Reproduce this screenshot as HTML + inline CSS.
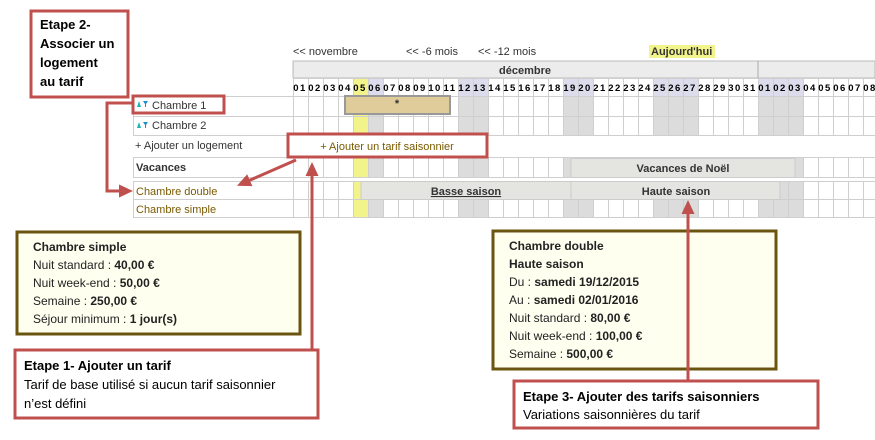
<!DOCTYPE html>
<html><head><meta charset="utf-8"><style>
body{margin:0;background:#fff;width:875px;height:440px;overflow:hidden}
svg{display:block;font-family:"Liberation Sans",sans-serif}
.d{font-size:9.5px;font-weight:bold;fill:#000;letter-spacing:1.5px;text-anchor:middle}
.l{font-size:11px;fill:#333}
.b{font-size:11px;font-weight:bold;fill:#333}
.br{font-size:11px;fill:#7a5a00}
.t{font-size:12px;fill:#222}
.c{font-size:13px;fill:#000}
</style></head><body>
<svg width="875" height="440" viewBox="0 0 875 440">
<defs>
<pattern id="g" x="293" y="0" width="15" height="440" patternUnits="userSpaceOnUse"><line x1="0.5" y1="0" x2="0.5" y2="440" stroke="#cfcfcf" stroke-width="1"/></pattern>
<marker id="ar" markerWidth="14" markerHeight="14" refX="2" refY="7" orient="auto" markerUnits="userSpaceOnUse"><path d="M0,0.5 L14,7 L0,13.5 z" fill="#c0504d"/></marker>
</defs>
<text x="293" y="55" class="l">&lt;&lt; novembre</text>
<text x="406" y="55" class="l">&lt;&lt; -6 mois</text>
<text x="478" y="55" class="l">&lt;&lt; -12 mois</text>
<rect x="649" y="45" width="66" height="13" fill="#f3f38c"/>
<text x="651" y="55" class="b">Aujourd'hui</text>
<rect x="293" y="61" width="582" height="17" fill="#ececec" stroke="#bbb"/>
<line x1="758" y1="61" x2="758" y2="78" stroke="#aaa"/>
<text x="525" y="74" class="b" text-anchor="middle" fill="#000">décembre</text>
<g fill="#dcdcec">
<rect x="368" y="78" width="15" height="18"/><rect x="458" y="78" width="30" height="18"/><rect x="563" y="78" width="30" height="18"/><rect x="653" y="78" width="45" height="18"/><rect x="758" y="78" width="45" height="18"/>
</g>
<rect x="353" y="78" width="15" height="18" fill="#f3f38c"/>
<g fill="#dcdcdc">
<rect x="368" y="96" width="15" height="122"/><rect x="458" y="96" width="30" height="122"/><rect x="563" y="96" width="30" height="122"/><rect x="653" y="96" width="45" height="122"/><rect x="758" y="96" width="45" height="122"/>
</g>
<rect x="353" y="96" width="15" height="122" fill="#f3f38c"/>
<rect x="293" y="135" width="582" height="23" fill="#fff"/>
<rect x="293" y="178" width="582" height="3" fill="#fff"/>
<rect x="293" y="78" width="582" height="57" fill="url(#g)"/>
<rect x="293" y="158" width="582" height="20" fill="url(#g)"/>
<rect x="293" y="181" width="582" height="37" fill="url(#g)"/>
<g stroke="#cfcfcf">
<line x1="293" y1="78.5" x2="875" y2="78.5"/><line x1="133" y1="96.5" x2="875" y2="96.5"/><line x1="133" y1="116.5" x2="875" y2="116.5"/><line x1="133" y1="135.5" x2="875" y2="135.5"/>
<line x1="133" y1="157.5" x2="875" y2="157.5"/><line x1="133" y1="177.5" x2="875" y2="177.5"/>
<line x1="133" y1="181.5" x2="875" y2="181.5"/><line x1="133" y1="199.5" x2="875" y2="199.5"/><line x1="133" y1="217.5" x2="875" y2="217.5"/>
<line x1="133.5" y1="96" x2="133.5" y2="135"/><line x1="133.5" y1="157" x2="133.5" y2="178"/><line x1="133.5" y1="181" x2="133.5" y2="218"/>
<line x1="293.5" y1="61" x2="293.5" y2="218"/>
</g>
<g class="d">
<text x="300" y="91">01</text><text x="315" y="91">02</text><text x="330" y="91">03</text><text x="345" y="91">04</text><text x="360" y="91">05</text><text x="375" y="91">06</text><text x="390" y="91">07</text><text x="405" y="91">08</text><text x="420" y="91">09</text><text x="435" y="91">10</text><text x="450" y="91">11</text><text x="465" y="91">12</text><text x="480" y="91">13</text><text x="495" y="91">14</text><text x="510" y="91">15</text><text x="525" y="91">16</text><text x="540" y="91">17</text><text x="555" y="91">18</text><text x="570" y="91">19</text><text x="585" y="91">20</text><text x="600" y="91">21</text><text x="615" y="91">22</text><text x="630" y="91">23</text><text x="645" y="91">24</text><text x="660" y="91">25</text><text x="675" y="91">26</text><text x="690" y="91">27</text><text x="705" y="91">28</text><text x="720" y="91">29</text><text x="735" y="91">30</text><text x="750" y="91">31</text><text x="765" y="91">01</text><text x="780" y="91">02</text><text x="795" y="91">03</text><text x="810" y="91">04</text><text x="825" y="91">05</text><text x="840" y="91">06</text><text x="855" y="91">07</text><text x="870" y="91">08</text>
</g>
<rect x="345" y="96" width="105" height="18" fill="#e0cb9a" stroke="#999" stroke-width="2"/>
<text x="397" y="107" class="b" text-anchor="middle">*</text>
<rect x="571" y="158.5" width="224" height="19" fill="#e4e4e0" stroke="#ccc"/>
<text x="683" y="172" class="b" text-anchor="middle">Vacances de Noël</text>
<rect x="361" y="181.5" width="210" height="18" fill="#e4e4e0" stroke="#ccc"/>
<text x="466" y="195" class="b" text-anchor="middle" text-decoration="underline">Basse saison</text>
<rect x="571" y="181.5" width="209" height="18" fill="#e4e4e0" stroke="#ccc"/>
<text x="676" y="195" class="b" text-anchor="middle">Haute saison</text>
<g fill="#1ab5b5"><path d="M137,107 l2,-6 l2,6z"/><path d="M143,101 h5 l-2,3 v3 h-1 v-3z" fill="#1a8fd0"/>
<path d="M137,128 l2,-6 l2,6z"/><path d="M143,122 h5 l-2,3 v3 h-1 v-3z" fill="#1a8fd0"/></g>
<text x="152" y="109" class="l">Chambre 1</text>
<text x="152" y="129" class="l">Chambre 2</text>
<text x="135" y="149" class="l">+ Ajouter un logement</text>
<text x="136" y="171" class="b" fill="#000">Vacances</text>
<text x="136" y="195" class="br">Chambre double</text>
<text x="136" y="213" class="br">Chambre simple</text>
<rect x="133" y="96" width="91" height="17" fill="none" stroke="#c0504d" stroke-width="3"/>
<rect x="288" y="134" width="199" height="23" fill="#fff" stroke="#c0504d" stroke-width="3"/>
<text x="387" y="150" class="br" text-anchor="middle">+ Ajouter un tarif saisonnier</text>
<rect x="31" y="11" width="97" height="86" fill="#fff" stroke="#c0504d" stroke-width="3"/>
<text class="c" font-weight="bold"><tspan x="40" y="29">Etape 2-</tspan><tspan x="40" y="48">Associer un</tspan><tspan x="40" y="67">logement</tspan><tspan x="40" y="86">au tarif</tspan></text>
<polyline points="133,103 107,103 107,191 121,191" fill="none" stroke="#c0504d" stroke-width="3" marker-end="url(#ar)"/>
<line x1="296" y1="160" x2="248" y2="181" stroke="#c0504d" stroke-width="3" marker-end="url(#ar)"/>
<line x1="312" y1="350" x2="312" y2="174" stroke="#c0504d" stroke-width="3" marker-end="url(#ar)"/>
<rect x="17" y="232" width="283" height="102" fill="#fffff0" stroke="#6b5410" stroke-width="3"/>
<text class="t"><tspan x="33" y="251" font-weight="bold">Chambre simple</tspan>
<tspan x="33" y="269">Nuit standard : <tspan font-weight="bold">40,00 €</tspan></tspan>
<tspan x="33" y="287">Nuit week-end : <tspan font-weight="bold">50,00 €</tspan></tspan>
<tspan x="33" y="305">Semaine : <tspan font-weight="bold">250,00 €</tspan></tspan>
<tspan x="33" y="323">Séjour minimum : <tspan font-weight="bold">1 jour(s)</tspan></tspan></text>
<rect x="493" y="231" width="283" height="138" fill="#fffff0" stroke="#6b5410" stroke-width="3"/>
<text class="t"><tspan x="509" y="250" font-weight="bold">Chambre double</tspan>
<tspan x="509" y="268" font-weight="bold">Haute saison</tspan>
<tspan x="509" y="286">Du : <tspan font-weight="bold">samedi 19/12/2015</tspan></tspan>
<tspan x="509" y="304">Au : <tspan font-weight="bold">samedi 02/01/2016</tspan></tspan>
<tspan x="509" y="322">Nuit standard : <tspan font-weight="bold">80,00 €</tspan></tspan>
<tspan x="509" y="340">Nuit week-end : <tspan font-weight="bold">100,00 €</tspan></tspan>
<tspan x="509" y="358">Semaine : <tspan font-weight="bold">500,00 €</tspan></tspan></text>
<line x1="688" y1="381" x2="688" y2="212" stroke="#c0504d" stroke-width="3" marker-end="url(#ar)"/>
<rect x="15" y="350" width="303" height="68" fill="#fff" stroke="#c0504d" stroke-width="3"/>
<text class="c"><tspan x="24" y="370" font-weight="bold">Etape 1- Ajouter un tarif</tspan><tspan x="24" y="389">Tarif de base utilisé si aucun tarif saisonnier</tspan><tspan x="24" y="408">n’est défini</tspan></text>
<rect x="514" y="381" width="304" height="47" fill="#fff" stroke="#c0504d" stroke-width="3"/>
<text class="c"><tspan x="523" y="401" font-weight="bold">Etape 3- Ajouter des tarifs saisonniers</tspan><tspan x="523" y="419">Variations saisonnières du tarif</tspan></text>
</svg>
</body></html>
